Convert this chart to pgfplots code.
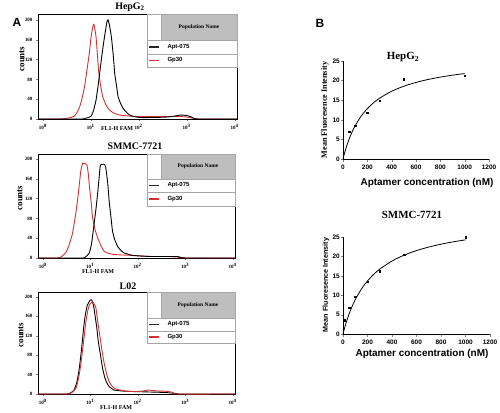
\documentclass[border=0pt]{standalone}
\usepackage{pgfplots}
\pgfplotsset{compat=1.18}
\usepackage{fontspec}
\setmainfont{Liberation Serif}
\setsansfont{Liberation Sans}
\definecolor{fred}{RGB}{214,48,49}
\definecolor{hdr}{RGB}{190,190,190}
\newcommand{\poplegend}[6]{%
 \fill[white] (#1,#6) rectangle (#2,#3);
 \fill[hdr] (#1+14,#4) rectangle (#2,#3);
 \draw[gray!70, line width=0.4pt] (#1,#6) rectangle (#2,#3);
 \draw[gray!70, line width=0.4pt] (#1,#4) -- (#2,#4) (#1,#5) -- (#2,#5) (#1+14,#4) -- (#1+14,#3);
 \node[font=\bfseries\fontsize{5.5}{6}\selectfont] at ({(#1+14+#2)/2},{(#3+#4)/2}) {Population Name};
 \draw[black!85, line width=1.3pt] (#1+2,{(#4+#5)/2}) -- (#1+12,{(#4+#5)/2});
 \node[anchor=west, font=\sffamily\bfseries\fontsize{6}{7}\selectfont] at (#1+17,{(#4+#5)/2}) {Apt-075};
 \draw[fred, line width=1.3pt] (#1+2,{(#5+#6)/2}) -- (#1+12,{(#5+#6)/2});
 \node[anchor=west, font=\sffamily\bfseries\fontsize{6}{7}\selectfont] at (#1+17,{(#5+#6)/2}) {Gp30};
}
\pgfplotsset{
 hist/.style={scale only axis, xmin=-0.1, xmax=4.05, ymin=0, ymax=210,
  axis line style={line width=0.6pt}, tick pos=left, tick align=outside,
  major tick length=2bp, xtick={0,1,2,3,4},
  xticklabels={10\textsuperscript{0},10\textsuperscript{1},10\textsuperscript{2},10\textsuperscript{3},10\textsuperscript{4}},
  ytick={0,40,80,120,160,200},
  tick label style={font=\bfseries\fontsize{5}{6}\selectfont},
  /pgf/number format/assume math mode=true,
  every axis plot/.append style={line width=0.9pt, smooth, tension=0.3}},
 bplot/.style={scale only axis, xmin=0, xmax=1200, ymin=0, ymax=25,
  axis x line*=bottom, axis y line*=left, axis line style={line width=0.8pt, -},
  tick align=outside, major tick length=2.5bp,
  xtick={0,200,400,600,800,1000,1200}, ytick={0,5,10,15,20,25},
  tick label style={font=\sffamily\bfseries\fontsize{6.5}{7}\selectfont},
  yticklabel style={inner xsep=0.6bp},
  /pgf/number format/assume math mode=true, /pgf/number format/1000 sep={},
  clip=false},
}
\begin{document}
\begin{tikzpicture}[x=1bp,y=1bp]
\path[use as bounding box] (0,0) rectangle (500,412);

% ---------- A: HepG2 ----------
\begin{axis}[hist, at={(38bp,293bp)}, anchor=south west, width=199bp, height=105bp, ymax=212]
\addplot[fred] coordinates {(-0.1,0) (0.3,0) (0.45,0.5) (0.58,3) (0.66,6) (0.72,14) (0.77,25) (0.82,42) (0.87,65) (0.92,98) (0.97,133) (1.01,168) (1.05,189) (1.07,190) (1.11,166) (1.14,128) (1.17,92) (1.21,65) (1.25,45) (1.32,28) (1.39,18) (1.5,11) (1.6,8) (1.8,6) (2.0,5) (2.3,5) (2.6,5) (2.85,5) (3.0,4) (3.12,2) (3.25,0) (4.05,0)};
\addplot[black] coordinates {(-0.1,0) (0.8,0) (0.87,1) (0.95,3) (1.01,6) (1.06,18) (1.11,38) (1.16,72) (1.22,119) (1.27,155) (1.31,180) (1.34,197) (1.36,200) (1.39,190) (1.43,166) (1.47,128) (1.5,92) (1.54,65) (1.57,45) (1.62,32) (1.67,22) (1.74,14) (1.81,8) (1.9,5) (2.02,3) (2.3,3) (2.6,4) (2.75,6) (2.88,8) (3.0,7) (3.1,4) (3.22,0) (4.05,0)};
\end{axis}

% ---------- A: SMMC-7721 ----------
\begin{axis}[hist, at={(38bp,154bp)}, anchor=south west, width=197bp, height=104bp]
\addplot[fred] coordinates {(-0.1,0) (0.3,0) (0.38,2) (0.48,10) (0.55,25) (0.62,47) (0.68,80) (0.73,114) (0.77,148) (0.8,175) (0.84,191) (0.88,191) (0.93,188) (0.96,170) (0.98,148) (1.02,112) (1.05,81) (1.1,58) (1.16,40) (1.23,24) (1.3,13) (1.4,9) (1.51,7) (1.7,6) (1.94,5) (2.3,3) (2.6,3) (2.84,2) (3.0,0) (4.05,0)};
\addplot[black] coordinates {(-0.1,0) (0.83,0) (0.9,2) (0.98,10) (1.03,30) (1.07,60) (1.12,98) (1.16,134) (1.21,185) (1.24,189) (1.3,189) (1.33,181) (1.37,150) (1.4,114) (1.44,80) (1.47,54) (1.52,36) (1.58,23) (1.65,15) (1.72,10) (1.91,5) (2.27,3) (2.6,3) (2.84,3) (3.0,0) (4.05,0)};
\end{axis}

% ---------- A: L02 ----------
\begin{axis}[hist, at={(38bp,18bp)}, anchor=south west, width=197bp, height=102bp]
\addplot[black] coordinates {(-0.1,0) (0.5,0) (0.58,2) (0.66,8) (0.72,25) (0.77,53) (0.82,95) (0.86,135) (0.9,165) (0.94,183) (0.99,192) (1.03,194) (1.07,182) (1.1,163) (1.14,135) (1.17,108) (1.22,78) (1.26,53) (1.31,33) (1.37,19) (1.44,12) (1.51,8) (1.7,6) (1.94,5) (2.3,4) (2.6,3) (2.8,1) (2.9,0) (4.05,0)};
\addplot[fred] coordinates {(-0.1,0) (0.52,0) (0.6,2) (0.7,12) (0.76,35) (0.81,67) (0.86,108) (0.91,149) (0.95,172) (0.98,183) (1.03,189) (1.05,190) (1.09,184) (1.12,177) (1.16,148) (1.21,115) (1.25,88) (1.3,60) (1.35,40) (1.4,25) (1.47,15) (1.55,10) (1.75,6) (1.94,5) (2.1,6) (2.22,8) (2.35,7) (2.43,6) (2.55,6) (2.65,5) (2.75,3) (2.82,0) (4.05,0)};
\end{axis}

\poplegend{147}{237}{398}{372}{358}{345}
\poplegend{147}{235}{258}{233}{220}{206}
\poplegend{147}{235}{120}{94}{81}{69}

% A texts
\node[font=\sffamily\bfseries\fontsize{12}{14}\selectfont] at (17,390) {A};
\node[font=\bfseries\fontsize{10}{12}\selectfont] at (130,405) {HepG\textsubscript{2}};
\node[font=\bfseries\fontsize{10}{12}\selectfont] at (135,266) {SMMC-7721};
\node[font=\bfseries\fontsize{10}{12}\selectfont] at (128,126) {L02};
\node[rotate=90, font=\bfseries\fontsize{9}{10}\selectfont] at (22,353) {counts};
\node[rotate=90, font=\bfseries\fontsize{9}{10}\selectfont] at (20,214) {counts};
\node[rotate=90, font=\bfseries\fontsize{9}{10}\selectfont] at (21,77) {counts};
\node[font=\bfseries\fontsize{6}{7}\selectfont] at (117,283) {FL1-H FAM};
\node[font=\bfseries\fontsize{6}{7}\selectfont] at (98,140) {FL1-H FAM};
\node[font=\bfseries\fontsize{6}{7}\selectfont] at (116,4.5) {FL1-H FAM};

% ---------- B: HepG2 ----------
\begin{axis}[bplot, at={(343bp,253bp)}, anchor=south west, width=146bp, height=98bp]
\addplot[black, line width=0.8pt, smooth] coordinates {(0,0) (10,1.20) (25,2.80) (50,5.06) (75,6.92) (100,8.49) (150,10.97) (200,12.85) (250,14.32) (300,15.50) (400,17.28) (500,18.57) (600,19.53) (700,20.29) (800,20.89) (900,21.39) (1000,21.80)};
\addplot[only marks, mark=square*, mark size=0.8pt, black] coordinates {(50,7.0) (100,8.5) (200,11.8) (300,14.9) (500,20.4) (1000,21.2)};
\end{axis}

% ---------- B: SMMC-7721 ----------
\begin{axis}[bplot, at={(343bp,78bp)}, anchor=south west, width=147bp, height=97bp]
\addplot[black, line width=0.8pt, smooth] coordinates {(0,0) (10,1.20) (25,2.84) (50,5.19) (75,7.17) (100,8.85) (150,11.58) (200,13.68) (250,15.36) (300,16.72) (400,18.81) (500,20.34) (600,21.50) (700,22.41) (800,23.15) (900,23.76) (1000,24.27)};
\addplot[only marks, mark=square*, mark size=0.8pt, black] coordinates {(10,3.6) (50,6.8) (100,9.6) (200,13.5) (300,16.2) (500,20.4) (1000,24.9)};
\end{axis}

% B texts
\node[font=\sffamily\bfseries\fontsize{12}{14}\selectfont] at (320,389) {B};
\node[font=\bfseries\fontsize{11}{13}\selectfont] at (403,355) {HepG\textsubscript{2}};
\node[font=\bfseries\fontsize{11}{13}\selectfont] at (412,197) {SMMC-7721};
\node[rotate=90, font=\bfseries\fontsize{8.2}{9}\selectfont] at (325,302) {Mean Fluoresence Intensity};
\node[rotate=90, font=\sffamily\bfseries\fontsize{7.2}{8}\selectfont] at (326,127) {Mean Fluoresence Intensity};
\node[font=\sffamily\bfseries\fontsize{10}{12}\selectfont] at (427,229) {Aptamer concentration (nM)};
\node[font=\sffamily\bfseries\fontsize{10}{12}\selectfont] at (422,58) {Aptamer concentration (nM)};
\end{tikzpicture}
\end{document}
